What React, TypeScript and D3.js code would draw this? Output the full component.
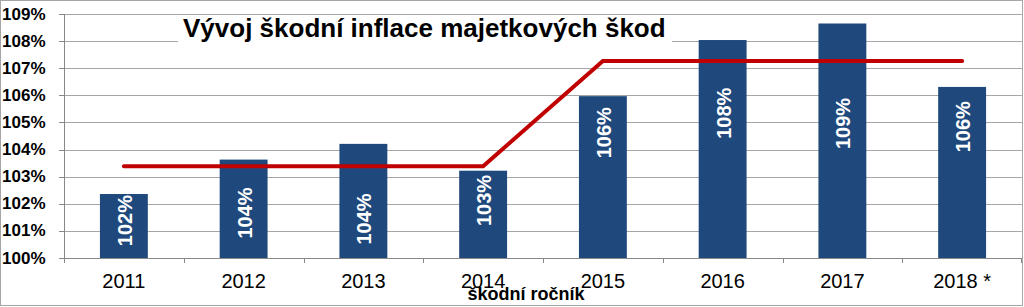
import React from "react";
import * as d3 from "d3";

const categories = ["2011", "2012", "2013", "2014", "2015", "2016", "2017", "2018 *"];
const barValues = [102.36, 103.63, 104.21, 103.22, 105.97, 108.04, 108.65, 106.31];
const barLabels = ["102%", "104%", "104%", "103%", "106%", "108%", "109%", "106%"];
const labelAnchor = [101.38, 101.66, 101.44, 102.12, 104.62, 105.34, 104.96, 104.84];
const lineValues = [103.38, 103.38, 103.38, 103.38, 107.27, 107.27, 107.27, 107.27];
const yTicks = [100, 101, 102, 103, 104, 105, 106, 107, 108, 109];
const title = "Vývoj škodní inflace majetkových škod";
const xTitle = "škodní ročník";

const W = 1024;
const H = 307;
const M = { left: 64, right: 1022, top: 14, bottom: 258 };
const FONT = "'Liberation Sans', Arial, sans-serif";

export default function App() {
  const x = d3.scaleBand<string>().domain(categories).range([M.left, M.right]).padding(0);
  const y = d3.scaleLinear().domain([100, 109]).range([M.bottom, M.top]);
  const bw = x.bandwidth() * 0.4;
  const cx = (c: string) => (x(c) as number) + x.bandwidth() / 2;

  const line = d3
    .line<number>()
    .x((_, i) => cx(categories[i]))
    .y((d) => y(d));

  return (
    <svg
      width={W}
      height={H}
      style={{ position: "absolute", left: 0, top: 0, background: "#fff" }}
      fontFamily={FONT}
    >
      <rect x={0.5} y={0.5} width={1022} height={305} fill="#fff" stroke="#a6a6a6" />
      {/* gridlines */}
      {yTicks.map((t) => (
        <line key={t} x1={M.left} x2={M.right} y1={Math.round(y(t)) + 0.5} y2={Math.round(y(t)) + 0.5} stroke="#a6a6a6" strokeWidth={1} />
      ))}
      {/* y ticks & labels */}
      {yTicks.map((t) => (
        <g key={"yt" + t}>
          <line x1={M.left - 5} x2={M.left} y1={Math.round(y(t)) + 0.5} y2={Math.round(y(t)) + 0.5} stroke="#888" />
          <text x={45.5} y={y(t)} textAnchor="end" dominantBaseline="central" fontSize={17} fontWeight="bold" fill="#000">
            {t}%
          </text>
        </g>
      ))}
      <line x1={M.left + 0.5} x2={M.left + 0.5} y1={M.top} y2={M.bottom} stroke="#888" />
      {/* title with white box */}
      <rect x={178} y={18} width={494} height={28} fill="#fff" />
      <text x={183} y={37} fontSize={26} fontWeight="bold" fill="#000">
        {title}
      </text>
      {/* bars */}
      {categories.map((c, i) => (
        <rect key={c} x={cx(c) - bw / 2} y={y(barValues[i])} width={bw} height={y(100) - y(barValues[i])} fill="#1F497D" />
      ))}
      {/* bar labels */}
      {categories.map((c, i) => (
        <text
          key={"l" + c}
          transform={`translate(${cx(c) + 1},${y(labelAnchor[i])}) rotate(-90)`}
          textAnchor="middle"
          dominantBaseline="central"
          fontSize={20}
          fontWeight="bold"
          fill="#fff"
        >
          {barLabels[i]}
        </text>
      ))}
      {/* line */}
      <path d={line(lineValues) || ""} fill="none" stroke="#C00000" strokeWidth={4} strokeLinecap="round" strokeLinejoin="miter" />
      {/* x axis */}
      <line x1={M.left} x2={M.right} y1={M.bottom + 0.5} y2={M.bottom + 0.5} stroke="#888" />
      {categories.map((c) => (
        <line key={"xt" + c} x1={Math.round(x(c) as number) + 0.5} x2={Math.round(x(c) as number) + 0.5} y1={M.bottom} y2={M.bottom + 5} stroke="#888" />
      ))}
      <line x1={M.right - 0.5} x2={M.right - 0.5} y1={M.bottom} y2={M.bottom + 5} stroke="#888" />
      {categories.map((c) => (
        <text key={"xl" + c} x={cx(c)} y={287.5} textAnchor="middle" fontSize={20} fill="#000">
          {c}
        </text>
      ))}
      <text x={526} y={300} textAnchor="middle" fontSize={18} fontWeight="bold" fill="#000">
        {xTitle}
      </text>
    </svg>
  );
}
